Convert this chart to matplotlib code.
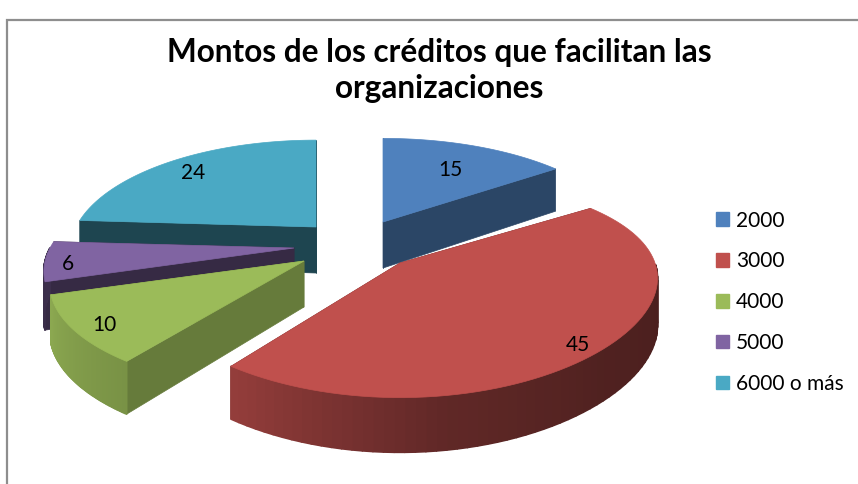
import matplotlib
matplotlib.use("Agg")
import matplotlib.pyplot as plt
import numpy as np
from matplotlib.collections import PolyCollection
from matplotlib.patches import Patch, Polygon

#### Data
categories = ['2000', '3000', '4000', '5000', '6000 o más']
values = [15, 45, 10, 6, 24]
colors = ['#4f81bd', '#c0504d', '#9bbb59', '#8064a2', '#4aa9c4']
title = 'Montos de los créditos que facilitan las\norganizaciones'

#### Pie layout (pixels of the 858x484 picture)
apexes = [(383, 222), (400, 263), (304, 261), (294, 248), (316, 227)]
radius = [241, 255, 248, 244, 240]
radius_y = [102, 105, 102, 102, 106]
persp_x = [0.22, 0.14, 0.22, 0.22, 0.22]
label_f = [0.70, 0.90, 0.88, 0.91, 0.85]
wall_k = [0.54, 0.5, 0.66, 0.42, 0.41]
arc_mult = [1, 1, 1, 0.5, 1]
persp = 0.22
depth = 46
draw_order = [0, 4, 3, 2, 1]

plt.rcParams['font.family'] = ['Lato', 'DejaVu Sans']
fig = plt.figure(figsize=(8.58, 4.84), dpi=100)
ax = fig.add_axes([0, 0, 1, 1])
ax.set_xlim(0, 858)
ax.set_ylim(484, 0)
ax.axis('off')


def project(i, theta, f=1.0):
    # theta is clockwise from 12 o'clock, returns top point and depth of the wall there
    X = f * np.sin(theta)
    Y = f * np.cos(theta)
    s = 1 / (1 + persp * Y)
    sx = 1 / (1 + persp_x[i] * Y)
    return apexes[i][0] + X * radius[i] * sx, apexes[i][1] - Y * radius_y[i] * s, depth * s ** 0.7


def shade(c, k):
    rgb = np.array(matplotlib.colors.to_rgb(c))
    return tuple(rgb * k)


# angle shading of the outer wall
def arc_k(deg):
    return np.interp(deg, [90, 135, 170, 216, 252, 274], [0.38, 0.42, 0.5, 0.78, 0.9, 0.95])


angles = np.deg2rad(np.cumsum([0] + values) / sum(values) * 360)

#### Frame
ax.plot([7, 7, 858], [484, 20, 20], color='#8e8e8e', lw=1.6, solid_joinstyle='miter')

#### Slices
for i in draw_order:
    apex = apexes[i]
    a0, a1 = angles[i], angles[i + 1]
    mid = (a0 + a1) / 2
    th = np.linspace(a0, a1, 80)
    px, py, pd = project(i, th)
    dark = shade(colors[i], wall_k[i])

    # radial walls
    for j in [0, -1]:
        wall = [apex, (px[j], py[j]), (px[j], py[j] + pd[j]), (apex[0], apex[1] + depth)]
        ax.add_patch(Polygon(wall, closed=True, fc=dark, ec=dark, lw=0.5))

    # outer wall
    quads, cols = [], []
    for j in range(len(th) - 1):
        if np.cos(th[j]) >= 0:
            continue
        quads.append([(px[j], py[j]), (px[j + 1], py[j + 1]),
                      (px[j + 1], py[j + 1] + pd[j + 1]), (px[j], py[j] + pd[j])])
        cols.append(shade(colors[i], arc_k(np.rad2deg(th[j])) * arc_mult[i]))
    if quads:
        ax.add_collection(PolyCollection(quads, facecolors=cols, edgecolors=cols, lw=1.2))

    # top
    top = [apex] + list(zip(px, py))
    ax.add_patch(Polygon(top, closed=True, fc=colors[i], ec=colors[i], lw=0.5))

    lx, ly, _ = project(i, mid, label_f[i])
    ax.text(lx, ly + 4, str(values[i]), ha='center', va='center', fontsize=15, color='black')

#### Title
ax.text(439, 70.5, title, ha='center', va='center', fontsize=22.7, fontweight='bold',
        color='black', linespacing=1.27)

#### Legend
handles = [Patch(fc=c, ec=c) for c in colors]
ax.legend(handles, categories, loc='upper left', bbox_to_anchor=(0.8345, 0.565), frameon=False,
          fontsize=15, handlelength=0.62, handleheight=0.62, handletextpad=0.34, labelspacing=1.0,
          borderpad=0, borderaxespad=0)

fig.savefig('out.png', dpi=100)
